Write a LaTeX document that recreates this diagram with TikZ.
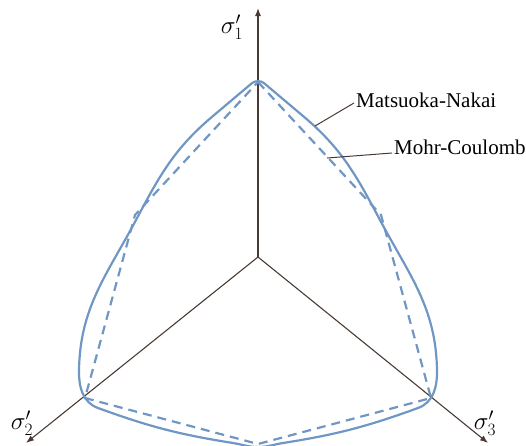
\documentclass[tikz,border=0pt]{standalone}
\usepackage{amsmath}
\usepackage{fontspec}
\setmainfont{Liberation Serif}
\usetikzlibrary{arrows.meta, calc}

\definecolor{axisbrown}{RGB}{75,58,52}
\definecolor{yieldblue}{RGB}{112,151,196}

\begin{document}
\begin{tikzpicture}[
    x=1pt, y=1pt,
    axis/.style={draw=axisbrown, line width=1.1pt, -{Latex[length=8pt, width=6pt]}}, % Stress axes
    mnline/.style={draw=yieldblue, line width=2.2pt},                                % Matsuoka-Nakai (solid)
    mcline/.style={draw=yieldblue, line width=2.2pt, dash pattern=on 9pt off 6pt},   % Mohr-Coulomb (dashed)
    lbl/.style={font=\fontsize{21}{25}\selectfont, inner sep=2pt},                   % Text labels
    axlbl/.style={font=\fontsize{26}{30}\selectfont, inner sep=2pt},                 % Axis labels
    leader/.style={draw=axisbrown, line width=1pt}                                   % Leader lines
]
\useasboundingbox (-258,-188) rectangle (268,257);

% --- AXES ---
\coordinate (o) at (0,0);
\coordinate (s1) at (0,249);
\coordinate (s2) at (-232,-186);
\coordinate (s3) at (230,-186);
\draw[axis] (o) -- (s1);
\draw[axis] (o) -- (s2);
\draw[axis] (o) -- (s3);

\node[axlbl] (s1lbl) at (-26,230) {$\sigma_1'$};
\node[axlbl] (s2lbl) at (-236,-166) {$\sigma_2'$};
\node[axlbl] (s3lbl) at (227,-166) {$\sigma_3'$};

% --- MOHR-COULOMB HEXAGON ---
\coordinate (mc1) at (0,175);
\coordinate (mc2) at (123,42);
\coordinate (mc3) at (173,-141);
\coordinate (mc4) at (0,-187);
\coordinate (mc5) at (-173,-141);
\coordinate (mc6) at (-123,42);
\draw[mcline] (mc1) -- (mc2) -- (mc3) -- (mc4) -- (mc5) -- (mc6) -- cycle;

% --- MATSUOKA-NAKAI CURVE ---
\draw[mnline] (45,141)
    to[out=-40, in=118]   (122,37)
    to[out=-62, in=91]    (179,-113)
    to[out=-89, in=20]    (160,-151)
    to[out=-160, in=9]    (25,-186)
    to[out=-171, in=0]    (0,-190)
    to[out=180, in=-9]    (-25,-186)
    to[out=171, in=-20]   (-160,-151)
    to[out=160, in=-91]   (-179,-113)
    to[out=89, in=-118]   (-122,37)
    to[out=62, in=-140]   (-45,141)
    -- (-6,173.9) .. controls (-2.9,176.5) and (2.9,176.5) .. (6,173.9)
    -- cycle;

% --- LABELS WITH LEADERS ---
\node[lbl, anchor=west] (mnlbl) at (96,157) {Matsuoka-Nakai};
\node[lbl, anchor=west] (mclbl) at (134,110) {Mohr-Coulomb};

\coordinate (mnpt) at (57,131);  % point on solid curve
\coordinate (mcpt) at (69,99);   % point on dashed edge
\draw[leader] (mnpt) -- ([yshift=-3pt]mnlbl.west);
\draw[leader] (mcpt) -- ([yshift=-6pt]mclbl.west);

\end{tikzpicture}
\end{document}
